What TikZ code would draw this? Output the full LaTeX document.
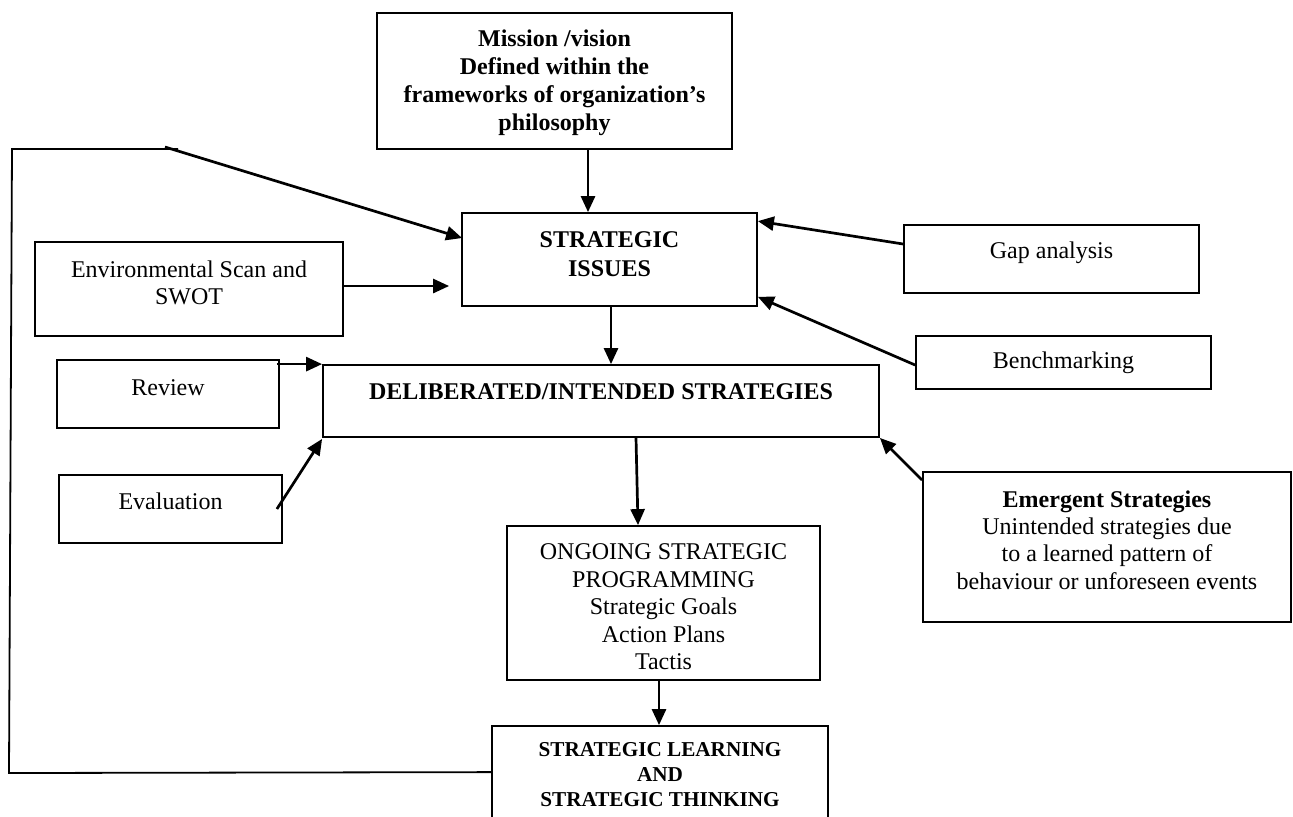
\documentclass[tikz,border=0pt]{standalone}
\usepackage{fontspec}
\setmainfont{Liberation Serif}
\usetikzlibrary{arrows.meta,fit,calc}
\tikzset{
  boxsty/.style={draw, line width=0.9pt, inner sep=0pt, rectangle},
  txt/.style={inner sep=0pt, align=center, font=\fontsize{12}{13.8}\selectfont},
  btxt/.style={inner sep=0pt, align=center, font=\fontsize{12}{14}\selectfont\bfseries},
  arr/.style={line width=1.35pt, -{Triangle[length=8pt,width=7pt]}},
  fbline/.style={line width=0.9pt}
}
\begin{document}
\begin{tikzpicture}[x=0.5pt,y=-0.5pt]
\useasboundingbox (0,0) rectangle (1293,816);
% boxes
\node[boxsty, fit={(377,13) (732,149)}] (mission) {};
\node[boxsty, fit={(462,213) (757,306)}] (si) {};
\node[boxsty, fit={(35,242) (343,336)}] (env) {};
\node[boxsty, fit={(904,225) (1199,293)}] (gap) {};
\node[boxsty, fit={(916,336) (1211,389)}] (bench) {};
\node[boxsty, fit={(57,360) (279,428)}] (review) {};
\node[boxsty, fit={(323,365) (879,437)}] (delib) {};
\node[boxsty, fit={(59,475) (282,543)}] (eval) {};
\node[boxsty, fit={(923,472) (1291,622)}] (emergent) {};
\node[boxsty, fit={(507,526) (820,680)}] (ongoing) {};
\node[boxsty, fit={(492,726) (828,832)}] (learning) {};
% texts
\node[btxt] (missiontext) at (554.5,83) {Mission /vision\\Defined within the\\frameworks of organization’s\\philosophy};
\node[btxt, font=\fontsize{12}{14.5}\selectfont\bfseries] (sitext) at (609.5,254) {STRATEGIC\\ISSUES};
\node[txt, font=\fontsize{12}{13.5}\selectfont] (envtext) at (189,283) {Environmental Scan and\\SWOT};
\node[txt] (gaptext) at (1051.5,253) {Gap analysis};
\node[txt] (benchtext) at (1063.5,363) {Benchmarking};
\node[txt] (reviewtext) at (168,388) {Review};
\node[btxt] (delibtext) at (601,392) {DELIBERATED/INTENDED STRATEGIES};
\node[txt] (evaltext) at (170.5,501) {Evaluation};
\node[txt, font=\fontsize{12}{13.7}\selectfont] (emergenttext) at (1107,540) {\textbf{Emergent Strategies}\\Unintended strategies due\\to a learned pattern of\\behaviour or unforeseen events};
\node[txt, font=\fontsize{12}{13.75}\selectfont] (ongoingtext) at (663.5,607) {ONGOING STRATEGIC\\PROGRAMMING\\Strategic Goals\\Action Plans\\Tactis};
\node[btxt, font=\fontsize{10.6}{12.5}\selectfont\bfseries] (learningtext) at (660,775) {STRATEGIC LEARNING\\AND\\STRATEGIC THINKING};
% connectors
\draw[arr] ($(mission.south)+(33.5,0)$) -- ($(si.north)+(-21.5,0)$);
\draw[arr] ($(si.south)+(1.5,0)$) -- ($(delib.north)+(10,0)$);
\draw[arr] ($(delib.south)+(35,0)$) -- ($(ongoing.north)+(-25.5,0)$);
\draw[arr] ($(ongoing.south)+(-4.5,0)$) -- ($(learning.north)+(-1,0)$);
\draw[arr] ($(env.east)+(0,-3)$) -- ($(si.west)+(-12,26.5)$);
\draw[arr] ($(gap.west)+(0,-15)$) -- ($(si.north east)+(0,9)$);
\draw[arr] ($(bench.west)+(0,2.5)$) -- ($(si.south east)+(0,-10)$);
\draw[arr] ($(review.north east)+(-3,5)$) -- (delib.north west);
\draw[arr] ($(eval.east)+(-6,0)$) -- ($(delib.south west)+(0,1)$);
\draw[arr] ($(emergent.north west)+(0,9)$) -- (delib.south east);
% feedback loop
\coordinate (fbbl) at (9,773);
\coordinate (fbtl) at (12,149);
\coordinate (fbtr) at (178,149);
\coordinate (fbs) at (165,147);
\draw[fbline] ($(learning.north west)+(0,47)$) -- (fbbl) -- (fbtl) -- (fbtr);
\draw[arr] (fbs) -- ($(si.west)+(1,-21.5)$);
\end{tikzpicture}
\end{document}
